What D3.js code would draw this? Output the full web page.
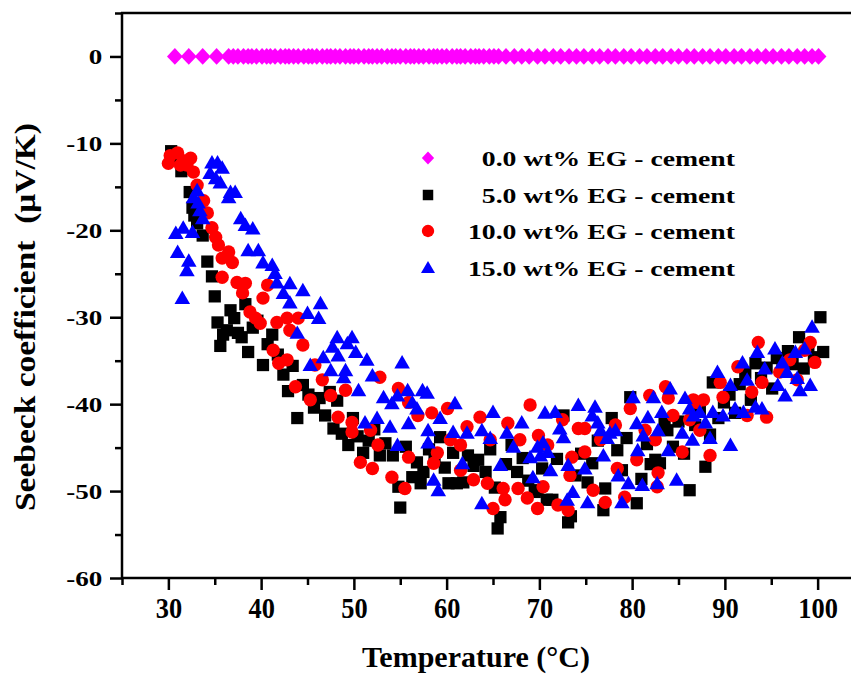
<!DOCTYPE html>
<html>
<head>
<meta charset="utf-8">
<script src="https://cdn.jsdelivr.net/npm/d3@7"></script>
<style>
  body { margin: 0; background: #fff; }
  svg { display: block; }
  text { font-family: "Liberation Serif", "Times New Roman", serif; font-weight: bold; fill: #000; }
</style>
</head>
<body>
<svg id="chart" width="851" height="678"></svg>
<script>
// Axis ticks
const xTicks = [30, 40, 50, 60, 70, 80, 90, 100];
const xMinor = [25, 35, 45, 55, 65, 75, 85, 95, 105];
const yTicks = [0, -10, -20, -30, -40, -50, -60];
const yMinor = [5, -5, -15, -25, -35, -45, -55];

const seriesNames = [
  "0.0 wt% EG - cement",
  "5.0 wt% EG - cement",
  "10.0 wt% EG - cement",
  "15.0 wt% EG - cement"
];
const seriesColors = ["#ff00ff", "#000000", "#ff0000", "#0000ff"];

// [temperature °C, Seebeck coefficient µV/K]
const eg00 = [
  [30.7,0],[32.2,0],[33.7,0],[35.2,0],[36.5,0],[37.0,0],[37.5,0],[38.1,0],[38.6,0],[39.0,0],
  [39.5,0],[40.1,0],[40.6,0],[41.0,0],[41.5,0],[42.1,0],[42.6,0],[43.0,0],[43.5,0],[44.0,0],
  [44.6,0],[45.1,0],[45.5,0],[46.0,0],[46.6,0],[47.1,0],[47.5,0],[48.0,0],[48.5,0],[49.1,0],
  [49.6,0],[50.0,0],[50.5,0],[51.1,0],[51.6,0],[52.0,0],[52.5,0],[53.0,0],[53.6,0],[54.1,0],
  [54.5,0],[55.0,0],[55.6,0],[56.1,0],[56.5,0],[57.0,0],[57.5,0],[58.1,0],[58.6,0],[59.0,0],
  [59.5,0],[60.0,0],[60.6,0],[61.1,0],[61.5,0],[62.0,0],[62.6,0],[63.1,0],[63.5,0],[64.0,0],
  [64.6,0],[65.1,0],[65.6,0],[66.4,0],[67.3,0],[68.1,0],[68.9,0],[69.8,0],[70.6,0],[71.5,0],
  [72.3,0],[73.2,0],[74.0,0],[74.8,0],[75.7,0],[76.5,0],[77.4,0],[78.2,0],[79.1,0],[79.9,0],
  [80.8,0],[81.6,0],[82.5,0],[83.3,0],[84.2,0],[85.0,0],[85.9,0],[86.7,0],[87.6,0],[88.4,0],
  [89.3,0],[90.1,0],[91.0,0],[91.8,0],[92.7,0],[93.5,0],[94.4,0],[95.2,0],[96.1,0],[96.9,0],
  [97.8,0],[98.6,0],[99.4,0],[100.1,0]
];

const eg05 = [
  [30.3,-10.9],[30.7,-11.6],[31.4,-13.2],[31.9,-12.9],[32.3,-15.6],[32.6,-17.4],[32.8,-18.3],[33.1,-19.2],
  [33.7,-20.6],[34.2,-23.6],[34.7,-25.3],[35.0,-27.6],[35.3,-30.6],[35.6,-33.3],[35.9,-32.0],[36.3,-31.5],
  [36.7,-29.2],[37.1,-30.1],[37.5,-31.8],[37.9,-32.3],[38.3,-28.5],[38.6,-34.0],[39.1,-31.2],[39.6,-30.4],
  [40.2,-35.5],[40.7,-33.1],[41.2,-32.0],[41.8,-34.3],[42.4,-36.6],[42.9,-38.5],[43.4,-35.6],[43.9,-41.6],
  [44.5,-37.8],[45.1,-38.9],[45.7,-40.4],[46.3,-39.3],[46.9,-41.3],[47.4,-38.6],[47.8,-42.8],[48.2,-39.6],
  [48.7,-43.4],[49.4,-44.7],[49.9,-41.6],[50.4,-43.7],[51.0,-45.6],[51.6,-44.2],[52.2,-42.9],[52.8,-45.9],
  [53.4,-44.5],[54.2,-45.9],[54.8,-49.5],[55.0,-51.9],[55.6,-44.9],[56.3,-48.4],[56.8,-46.7],[57.2,-49.1],
  [57.5,-47.8],[58.1,-45.2],[58.7,-46.5],[59.3,-43.8],[59.8,-47.3],[60.2,-49.1],[60.7,-45.6],[61.1,-49.1],
  [61.8,-49.0],[62.3,-45.9],[62.9,-47.1],[63.4,-46.4],[64.2,-47.8],[64.7,-45.2],[65.2,-49.6],[65.5,-54.3],
  [65.8,-53.0],[66.4,-46.9],[67.0,-44.7],[67.6,-47.8],[68.2,-46.2],[68.8,-48.8],[69.5,-50.1],[69.8,-49.9],
  [70.3,-47.4],[70.8,-51.0],[71.4,-51.0],[71.9,-46.3],[72.6,-41.3],[73.1,-53.6],[73.4,-52.9],[73.9,-48.2],
  [74.5,-45.7],[75.2,-49.0],[75.7,-46.8],[76.3,-44.2],[76.9,-52.2],[77.1,-49.7],[77.8,-41.6],[78.4,-45.3],
  [78.9,-47.6],[79.4,-43.9],[79.8,-39.2],[80.5,-51.4],[81.0,-48.6],[81.6,-44.6],[82.0,-46.9],[82.5,-46.4],
  [83.0,-46.8],[83.5,-42.3],[83.8,-43.0],[84.4,-44.9],[85.0,-42.0],[85.6,-45.7],[86.2,-49.9],[86.8,-42.4],
  [87.3,-40.6],[87.9,-47.2],[88.4,-43.5],[88.7,-37.5],[89.3,-41.6],[89.9,-39.8],[90.5,-38.9],[91.1,-41.0],
  [91.6,-37.7],[92.2,-36.4],[92.8,-39.5],[93.3,-35.3],[93.9,-37.0],[94.5,-35.8],[95.1,-38.2],[95.6,-34.7],
  [96.2,-36.1],[96.8,-33.9],[97.3,-35.4],[98.0,-32.3],[98.5,-35.9],[99.0,-33.7],[99.6,-34.6],[100.3,-30.0],
  [100.6,-34.0]
];

const eg10 = [
  [30.0,-12.3],[30.2,-11.4],[31.0,-11.1],[31.3,-12.5],[31.6,-12.0],[32.0,-12.5],[32.4,-11.7],[32.7,-13.3],
  [33.1,-14.8],[33.8,-16.6],[34.2,-18.0],[34.7,-19.7],[35.1,-20.8],[35.4,-21.7],[35.8,-23.2],[35.8,-25.4],
  [36.5,-22.5],[36.9,-23.7],[37.4,-26.0],[38.0,-27.2],[38.3,-26.1],[38.8,-29.4],[39.4,-30.1],[39.9,-30.7],
  [40.2,-27.8],[40.7,-26.3],[41.3,-33.8],[41.7,-30.6],[41.9,-35.3],[42.8,-30.1],[42.8,-34.9],[43.1,-31.5],
  [44.0,-30.1],[43.7,-38.0],[44.5,-33.2],[45.3,-39.5],[45.8,-35.5],[46.6,-37.2],[47.5,-39.0],[48.3,-41.5],
  [49.1,-38.4],[49.8,-42.1],[49.8,-43.2],[50.7,-46.7],[51.8,-43.0],[52.0,-47.4],[52.6,-44.7],[52.8,-36.9],
  [54.1,-48.4],[54.8,-38.2],[55.5,-49.7],[55.9,-46.1],[55.9,-39.8],[56.9,-41.3],[58.4,-41.0],[58.6,-46.8],
  [59.0,-45.6],[60.1,-40.5],[60.4,-44.1],[61.5,-47.6],[61.5,-44.7],[62.2,-42.6],[62.9,-48.7],[63.6,-41.5],
  [64.4,-49.1],[64.7,-44.1],[65.0,-52.0],[66.1,-49.7],[66.3,-51.0],[66.6,-42.2],[67.7,-49.7],[67.9,-44.1],
  [68.7,-50.8],[69.0,-40.1],[69.8,-52.0],[69.9,-43.6],[70.4,-49.5],[70.9,-44.7],[72.0,-51.6],[72.5,-41.8],
  [73.1,-52.2],[73.3,-48.2],[73.5,-46.1],[74.2,-42.8],[74.9,-42.8],[74.9,-45.5],[75.8,-49.9],[76.6,-44.1],
  [77.1,-51.3],[78.2,-42.4],[78.4,-47.4],[79.2,-50.7],[79.8,-40.5],[80.5,-46.4],[81.4,-43.0],[81.9,-39.0],
  [82.5,-44.1],[82.7,-49.5],[82.8,-47.9],[83.6,-38.0],[83.9,-39.3],[84.4,-41.3],[85.4,-45.5],[86.2,-41.8],
  [86.6,-39.5],[87.0,-39.8],[87.3,-43.0],[87.7,-39.5],[88.4,-45.9],[89.5,-37.5],[89.8,-39.2],[91.4,-35.7],
  [92.4,-41.3],[92.9,-38.6],[93.6,-32.9],[94.0,-37.5],[94.5,-41.5],[95.9,-36.3],[97.0,-34.9],[97.8,-37.2],
  [98.6,-33.8],[99.2,-32.9],[99.7,-35.2]
];

const eg15 = [
  [30.8,-20.3],[31.0,-22.5],[31.5,-27.8],[31.6,-19.7],[32.0,-24.6],[32.2,-23.5],[32.6,-20.2],[32.7,-16.2],
  [33.1,-15.4],[33.2,-16.8],[33.4,-17.7],[33.7,-18.6],[34.5,-13.4],[34.7,-12.2],[35.1,-14.0],[35.3,-12.2],
  [35.6,-14.5],[35.8,-12.8],[36.5,-16.2],[36.7,-15.6],[37.2,-15.6],[37.8,-18.6],[38.3,-19.4],[38.6,-22.3],
  [39.1,-19.8],[39.7,-22.3],[40.2,-23.7],[41.2,-24.0],[41.5,-24.9],[41.7,-26.0],[42.4,-27.2],[43.1,-26.1],
  [43.1,-28.3],[43.9,-31.8],[44.5,-26.9],[45.0,-29.5],[45.3,-35.5],[46.2,-30.1],[46.4,-28.4],[46.7,-34.6],
  [47.5,-36.1],[47.7,-33.4],[48.2,-32.3],[48.3,-34.4],[48.9,-36.9],[49.1,-36.1],[49.3,-33.0],[49.8,-32.3],
  [50.2,-34.0],[50.5,-38.4],[51.2,-42.1],[51.4,-34.9],[52.0,-36.7],[52.5,-41.6],[53.2,-39.2],[53.9,-42.6],
  [54.1,-39.9],[54.7,-39.0],[54.7,-44.7],[55.2,-35.2],[55.8,-38.4],[55.9,-42.2],[56.3,-39.8],[56.8,-40.5],
  [57.4,-38.4],[57.9,-38.7],[58.0,-43.0],[58.0,-44.4],[58.6,-48.7],[59.1,-49.9],[59.3,-41.6],[60.7,-43.2],
  [60.9,-39.9],[61.7,-46.8],[62.2,-43.3],[63.8,-43.0],[63.8,-51.4],[64.7,-43.9],[65.0,-40.9],[65.8,-47.0],
  [66.5,-43.3],[67.2,-44.9],[68.1,-42.1],[69.0,-46.1],[69.3,-48.4],[69.8,-44.9],[70.1,-45.9],[70.4,-44.4],
  [70.6,-41.0],[70.9,-45.5],[71.2,-47.6],[71.7,-40.9],[72.2,-42.8],[72.6,-43.8],[73.0,-51.0],[73.1,-47.0],
  [73.6,-50.1],[74.2,-40.1],[74.9,-47.4],[75.2,-51.3],[75.7,-41.3],[76.0,-40.3],[76.3,-42.1],[76.6,-43.0],
  [76.9,-45.9],[77.3,-43.9],[77.6,-43.3],[78.2,-43.0],[78.5,-48.2],[78.9,-51.3],[79.6,-49.1],[80.1,-39.2],
  [80.5,-42.2],[80.6,-45.3],[81.1,-49.3],[81.2,-43.6],[81.7,-41.5],[82.3,-39.2],[82.7,-49.1],[82.8,-43.0],
  [83.2,-40.9],[83.9,-45.3],[84.1,-38.2],[84.8,-48.7],[85.4,-43.3],[85.7,-39.3],[86.2,-40.5],[86.5,-44.1],
  [86.6,-41.3],[87.3,-40.9],[87.9,-42.1],[88.4,-43.9],[88.7,-40.9],[89.2,-36.3],[89.8,-41.3],[90.6,-37.8],
  [90.6,-44.7],[91.1,-40.5],[91.9,-35.2],[92.0,-40.9],[92.4,-37.2],[93.3,-40.3],[93.5,-34.0],[94.0,-40.5],
  [94.3,-35.9],[95.4,-33.6],[95.7,-37.8],[96.2,-35.2],[96.5,-39.0],[96.7,-36.3],[97.6,-34.0],[97.8,-37.0],
  [98.1,-38.4],[98.6,-33.6],[99.2,-37.8],[99.4,-31.1]
];

const seriesData = [eg00, eg05, eg10, eg15];

const svg = d3.select("#chart");
const W = 851;

const x = d3.scaleLinear().domain([25, 105]).range([122, 864]);
const y = d3.scaleLinear().domain([-60, 5]).range([578, 13]);

// Marker shapes: diamond, square, circle, triangle
const diamondWide = {
  draw(ctx, size) {
    const h = Math.sqrt(size / 0.94) / 2 * 1.03;
    const w = h * 0.94;
    ctx.moveTo(0, -h); ctx.lineTo(w, 0); ctx.lineTo(0, h); ctx.lineTo(-w, 0); ctx.closePath();
  }
};
const shapeTypes = [diamondWide, d3.symbolSquare, d3.symbolCircle, d3.symbolTriangle];
const shapeSizes = [250, 150, 140, 105];
const legendSizes = [150, 110, 120, 85];

// Data points (later series on top)
seriesData.forEach((data, i) => {
  const sym = d3.symbol().type(shapeTypes[i]).size(shapeSizes[i]);
  const dy = i === 3 ? 1.5 : 0;
  svg.append("g").selectAll("path").data(data).join("path")
    .attr("d", sym)
    .attr("transform", d => `translate(${x(d[0])},${y(d[1]) + dy})`)
    .attr("fill", seriesColors[i]);
});

// Frame lines
const frame = svg.append("g").attr("stroke", "#000").attr("stroke-width", 2.5);
frame.append("line").attr("x1", 122).attr("x2", 122).attr("y1", 12).attr("y2", 579);
frame.append("line").attr("x1", 121).attr("x2", W).attr("y1", 13).attr("y2", 13);
frame.append("line").attr("x1", 121).attr("x2", W).attr("y1", 578).attr("y2", 578);

function styleAxis(g) {
  g.select(".domain").remove();
  g.selectAll(".tick line").attr("stroke", "#000").attr("stroke-width", 2.5);
}

// Y axis (plain hyphen for negative labels)
const yAxis = svg.append("g").attr("transform", "translate(122,0)")
  .call(d3.axisLeft(y).tickValues(yTicks).tickFormat(d => String(d))
    .tickSize(12).tickPadding(4).tickSizeOuter(0))
  .call(styleAxis);
yAxis.selectAll(".tick text")
  .style("font-size", "22px")
  .attr("transform", "scale(1.23,1)");
svg.append("g").attr("transform", "translate(122,0)")
  .call(d3.axisLeft(y).tickValues(yMinor).tickSize(7).tickFormat("").tickSizeOuter(0))
  .call(styleAxis);

// X axis
const xAxis = svg.append("g").attr("transform", "translate(0,578)")
  .call(d3.axisBottom(x).tickValues(xTicks).tickFormat(d => String(d))
    .tickSize(12).tickPadding(7).tickSizeOuter(0))
  .call(styleAxis);
xAxis.selectAll(".tick text")
  .style("font-size", "30px")
  .attr("transform", "scale(0.88,1)");
svg.append("g").attr("transform", "translate(0,578)")
  .call(d3.axisBottom(x).tickValues(xMinor).tickSize(7).tickFormat("").tickSizeOuter(0))
  .call(styleAxis);

// Axis titles
svg.append("text")
  .attr("x", 476).attr("y", 667)
  .attr("text-anchor", "middle")
  .style("font-size", "30px")
  .text("Temperature (\u00B0C)");

svg.append("text")
  .attr("transform", "translate(35,317) rotate(-90)")
  .attr("text-anchor", "middle")
  .attr("textLength", 388)
  .attr("lengthAdjust", "spacingAndGlyphs")
  .style("font-size", "30px")
  .style("white-space", "pre")
  .text("Seebeck coefficient  (\u03BCV/K)");

// Legend
const legendRows = [158, 195, 231, 268];
const legend = svg.append("g");
seriesNames.forEach((name, i) => {
  const sym = d3.symbol().type(shapeTypes[i]).size(legendSizes[i]);
  legend.append("path")
    .attr("d", sym)
    .attr("transform", `translate(428,${legendRows[i] + (i === 3 ? 1 : 0)})`)
    .attr("fill", seriesColors[i]);
  legend.append("text")
    .attr("text-anchor", "end")
    .attr("transform", `translate(735,${legendRows[i] + 8}) scale(1.26,1)`)
    .style("font-size", "22px")
    .text(name);
});
</script>
</body>
</html>
